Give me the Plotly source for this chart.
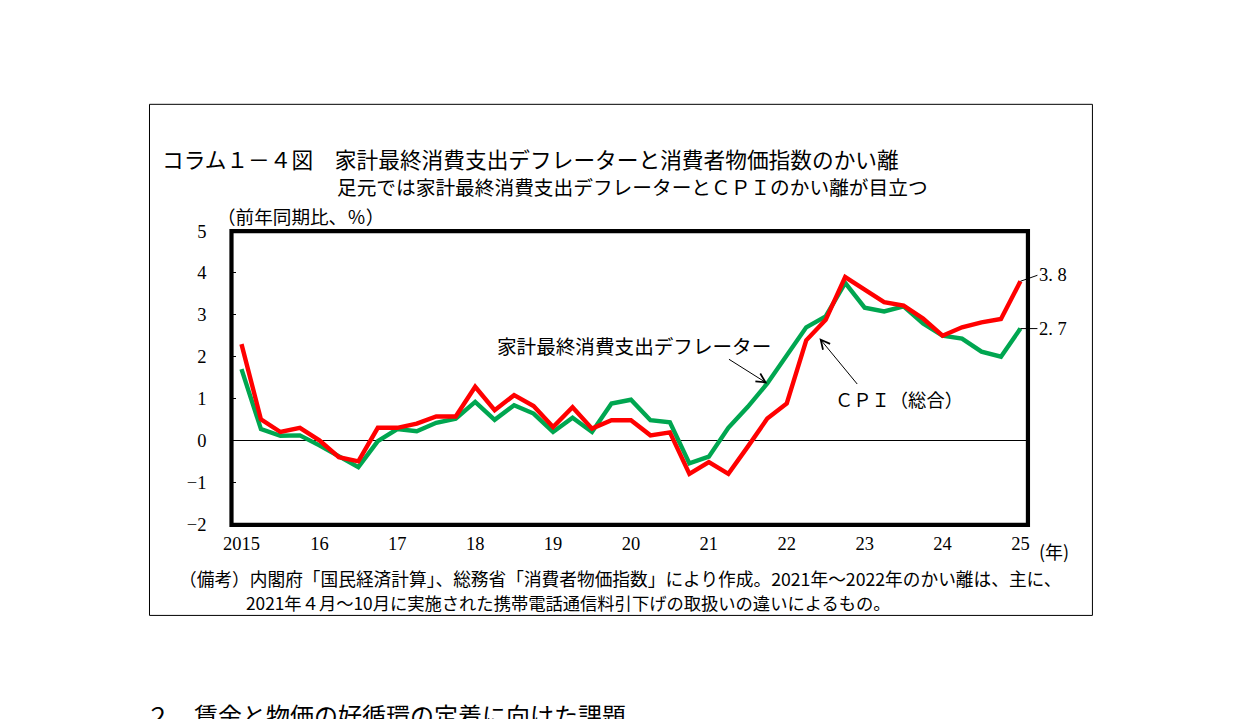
import plotly.graph_objects as go

# ---- data (quarterly, 2015Q1 - 2025Q1, % y/y) ----
start_year = 2015
n_quarters = 41
years = [start_year + i * 0.25 for i in range(n_quarters)]

cpi = [2.3, 0.5, 0.2, 0.3,
       0.0, -0.4, -0.5, 0.3,
       0.3, 0.4, 0.57, 0.57,
       1.28, 0.72, 1.08, 0.82,
       0.32, 0.79, 0.28, 0.48,
       0.48, 0.12, 0.19, -0.8,
       -0.52, -0.8, -0.15, 0.52,
       0.88, 2.39, 2.88, 3.9,
       3.6, 3.3, 3.22, 2.91,
       2.5, 2.7, 2.82, 2.9,
       3.8]

deflator = [1.7, 0.27, 0.11, 0.12,
            -0.12, -0.38, -0.64, -0.02,
            0.27, 0.22, 0.42, 0.52,
            0.92, 0.49, 0.84, 0.64,
            0.2, 0.54, 0.2, 0.88,
            0.97, 0.48, 0.43, -0.55,
            -0.39, 0.3, 0.8, 1.36,
            2.05, 2.7, 2.96, 3.76,
            3.17, 3.08, 3.2, 2.79,
            2.5, 2.43, 2.12, 2.0,
            2.67]

tick_years = list(range(2015, 2026))
tick_labels = ["2015", "16", "17", "18", "19", "20", "21", "22", "23", "24", "25"]
y_ticks = [-2, -1, 0, 1, 2, 3, 4, 5]

title_text = "コラム１－４図　家計最終消費支出デフレーターと消費者物価指数のかい離"
subtitle_text = "足元では家計最終消費支出デフレーターとＣＰＩのかい離が目立つ"
ytitle_text = "（前年同期比、％）"
xunit_text = "(年)"
note1 = "（備考）内閣府「国民経済計算」、総務省「消費者物価指数」により作成。2021年～2022年のかい離は、主に、"
note2 = "2021年４月～10月に実施された携帯電話通信料引下げの取扱いの違いによるもの。"
deflator_label = "家計最終消費支出デフレーター"
cpi_label = "ＣＰＩ（総合）"
section_text = "２　賃金と物価の好循環の定着に向けた課題"

RED = "#FF0000"
GREEN = "#00A650"
W, H = 1241, 719
JP = "Noto Sans CJK JP"
SERIF = "Liberation Serif"

# screen placement (page offset / scale of the photographed figure)
SX, OX = 0.992, 15.5
SY, OY = 0.972, 17.7


def px(x):
    return (x - OX) / SX / W


def py(y):
    return 1 - (y - OY) / SY / H


# horizontal scale: year -> screen px (2015 at 241, 77.9 px per year)
X0_PIX, X_PER_YEAR = 241.0, 77.9
FRAME_L, FRAME_R, FRAME_T, FRAME_B = 231, 1027.5, 230.7, 523.7


def yr(xpix):
    return start_year + (xpix - X0_PIX) / X_PER_YEAR


fig = go.Figure()
fig.add_trace(go.Scatter(x=years, y=deflator, mode="lines",
                         line=dict(color=GREEN, width=4.4), name="deflator",
                         showlegend=False))
fig.add_trace(go.Scatter(x=years, y=cpi, mode="lines",
                         line=dict(color=RED, width=4.4), name="CPI",
                         showlegend=False))

fig.update_layout(
    width=W, height=H, autosize=False,
    margin=dict(l=0, r=0, t=0, b=0),
    paper_bgcolor="white", plot_bgcolor="white",
    font=dict(family=SERIF, color="black", size=18),
    xaxis=dict(domain=[px(FRAME_L), px(FRAME_R)],
               range=[yr(FRAME_L), yr(FRAME_R)],
               tickvals=tick_years, ticktext=tick_labels,
               ticks="", showgrid=False, zeroline=False, showline=False,
               ticklabelstandoff=6,
               tickfont=dict(family=SERIF, size=18.5)),
    yaxis=dict(domain=[py(FRAME_B), py(FRAME_T)],
               range=[-2, 5], tickvals=y_ticks,
               ticks="inside", ticklen=5, tickcolor="black", tickwidth=1,
               showgrid=False, zeroline=True, zerolinecolor="black",
               zerolinewidth=1, showline=False,
               ticklabelstandoff=24,
               tickfont=dict(family=SERIF, size=18.5)),
)

# outer box
fig.add_shape(type="rect", xref="paper", yref="paper",
              x0=px(149), x1=px(1092), y0=py(615), y1=py(104),
              line=dict(color="black", width=1), layer="above")
# heavy plot frame
fig.add_shape(type="rect", xref="paper", yref="paper",
              x0=px(FRAME_L), x1=px(FRAME_R), y0=py(FRAME_B + 0.8), y1=py(FRAME_T),
              line=dict(color="black", width=4.2), layer="above")

ann = []


def ptext(text, x, y, size, anchor="left", family=JP):
    ann.append(dict(text=text, x=px(x), y=py(y), xref="paper", yref="paper",
                    xanchor=anchor, yanchor="middle", showarrow=False,
                    font=dict(family=family, size=size)))


ptext(title_text, 160, 158, 21.7)
ptext(subtitle_text, 335, 186, 19.7)
ptext(ytitle_text, 215, 215, 18.6)
ptext(xunit_text, 1037, 551, 18)
ptext(note1, 177, 578, 17.7)
ptext(note2, 244, 602, 17.3)
ptext(section_text, 144, 714, 24)

# series labels with arrows
ann.append(dict(text=deflator_label, x=yr(633.5), y=2.27, xref="x", yref="y",
                showarrow=False, font=dict(family=JP, size=19.6)))
ann.append(dict(text="", x=years[27], y=deflator[27], xref="x", yref="y",
                ax=yr(727), ay=1.96, axref="x", ayref="y",
                showarrow=True, arrowhead=5, arrowsize=1.8, arrowwidth=1,
                arrowcolor="black"))
ann.append(dict(text=cpi_label, x=yr(899), y=1.0, xref="x", yref="y",
                showarrow=False, font=dict(family=JP, size=18.3)))
ann.append(dict(text="", x=yr(819), y=2.44, xref="x", yref="y",
                ax=yr(858), ay=1.31, axref="x", ayref="y",
                showarrow=True, arrowhead=5, arrowsize=1.8, arrowwidth=1,
                arrowcolor="black"))

# end-value labels
for series, dy in ((cpi, -6), (deflator, 0)):
    v = series[-1]
    ann.append(dict(text=f"{v:.1f}".replace(".", ". "),
                    x=years[-1], y=v, xref="x", yref="y",
                    ax=17, ay=dy, axref="pixel", ayref="pixel",
                    xanchor="left", yanchor="middle",
                    showarrow=True, arrowhead=0, arrowwidth=1, arrowcolor="black",
                    font=dict(family=SERIF, size=18.5)))

fig.update_layout(annotations=ann)
fig.write_html("out.html")
